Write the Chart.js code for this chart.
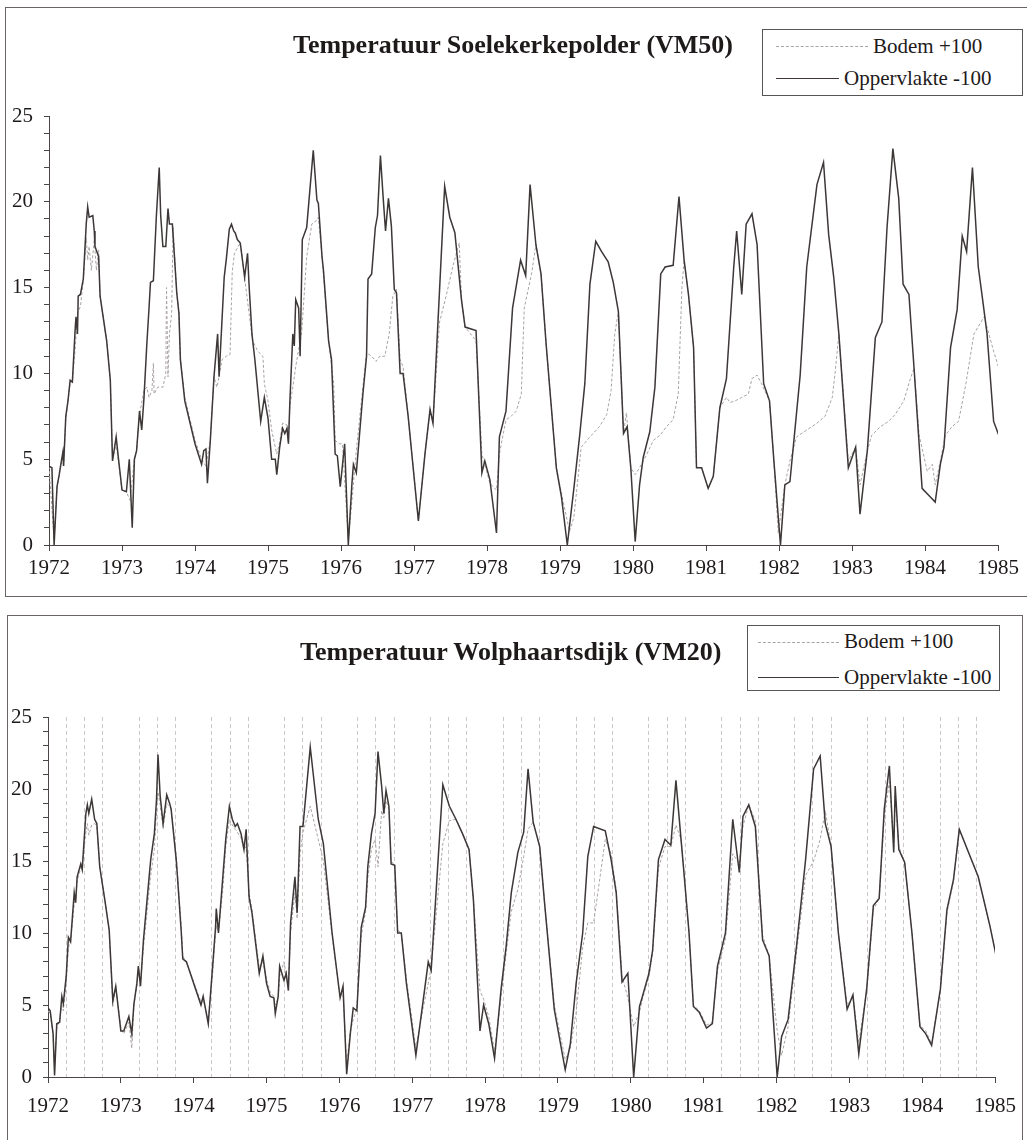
<!DOCTYPE html>
<html>
<head>
<meta charset="utf-8">
<title>Temperatuur Soelekerkepolder (VM50) / Wolphaartsdijk (VM20)</title>
<script src="https://cdn.jsdelivr.net/npm/chart.js@4.4.1/dist/chart.umd.min.js"></script>
<style>
  html, body { margin: 0; padding: 0; background: #fff; }
  body { width: 1027px; height: 1140px; position: relative; overflow: hidden;
         font-family: "Liberation Serif", "Times New Roman", serif; color: #1e1a1a; }
  .frame { position: absolute; border: 1px solid #6a6464; }
  #frame1 { left: 5px; top: 7px; width: 1040px; height: 588px; }
  #frame2 { left: 7px; top: 615px; width: 1014px; height: 560px; }
  .chartbox { position: absolute; left: 0; width: 1027px; }
  #box1 { top: 0; height: 600px; }
  #box2 { top: 600px; height: 540px; }
  .title { position: absolute; font-weight: bold; font-size: 26px; line-height: 30px; white-space: nowrap; }
  .legend { position: absolute; border: 1px solid #555; background: #fff; }
  .legend .sw { position: absolute; height: 0; }
  .legend .sw.bod { border-top: 1px dashed #aaa3a3; }
  .legend .sw.opp { border-top: 1.5px solid #3d3737; }
  .legend .txt { position: absolute; font-size: 21px; line-height: 24px; white-space: nowrap; }
</style>
</head>
<body>

<div class="frame" id="frame1"></div>
<div class="frame" id="frame2"></div>

<div class="chartbox" id="box1"><canvas id="soeChart"></canvas></div>
<div class="chartbox" id="box2"><canvas id="wolChart"></canvas></div>

<div class="title" style="left:293px; top:30px;">Temperatuur Soelekerkepolder (VM50)</div>
<div class="legend" style="left:762px; top:29px; width:259px; height:65px;">
  <div class="sw bod" style="left:13px; width:92px; top:16px;"></div>
  <div class="txt" style="left:110px; top:4px;">Bodem +100</div>
  <div class="sw opp" style="left:13px; width:63px; top:48px;"></div>
  <div class="txt" style="left:81px; top:36px;">Oppervlakte -100</div>
</div>

<div class="title" style="left:300px; top:637px;">Temperatuur Wolphaartsdijk (VM20)</div>
<div class="legend" style="left:747px; top:625px; width:251px; height:64px;">
  <div class="sw bod" style="left:10px; width:81px; top:16px;"></div>
  <div class="txt" style="left:96px; top:3px;">Bodem +100</div>
  <div class="sw opp" style="left:10px; width:81px; top:51px;"></div>
  <div class="txt" style="left:96px; top:39px;">Oppervlakte -100</div>
</div>

<script>
/* Temperatuur Soelekerkepolder (VM50) - oppervlakte (-100) */
const soeOppDates = [
  1972.00, 1972.04, 1972.07, 1972.11, 1972.14, 1972.17, 1972.19, 1972.20, 1972.23, 1972.26,
  1972.29, 1972.32, 1972.36, 1972.37, 1972.39, 1972.40, 1972.43, 1972.47, 1972.51, 1972.53,
  1972.55, 1972.60, 1972.62, 1972.63, 1972.68, 1972.70, 1972.79, 1972.84, 1972.87, 1972.92,
  1972.95, 1973.00, 1973.06, 1973.10, 1973.14, 1973.17, 1973.20, 1973.24, 1973.27, 1973.30,
  1973.34, 1973.37, 1973.39, 1973.43, 1973.47, 1973.51, 1973.53, 1973.56, 1973.60, 1973.63,
  1973.65, 1973.69, 1973.75, 1973.78, 1973.80, 1973.86, 1974.00, 1974.09, 1974.12, 1974.15,
  1974.17, 1974.21, 1974.26, 1974.31, 1974.33, 1974.40, 1974.43, 1974.47, 1974.50, 1974.53,
  1974.55, 1974.58, 1974.62, 1974.68, 1974.72, 1974.74, 1974.78, 1974.82, 1974.90, 1974.95,
  1975.00, 1975.05, 1975.10, 1975.12, 1975.16, 1975.20, 1975.23, 1975.26, 1975.28, 1975.30,
  1975.34, 1975.36, 1975.38, 1975.42, 1975.44, 1975.47, 1975.53, 1975.62, 1975.67, 1975.69,
  1975.74, 1975.76, 1975.83, 1975.87, 1975.92, 1975.95, 1975.99, 1976.05, 1976.10, 1976.15,
  1976.17, 1976.21, 1976.30, 1976.35, 1976.37, 1976.42, 1976.47, 1976.50, 1976.54, 1976.58,
  1976.61, 1976.65, 1976.69, 1976.73, 1976.76, 1976.81, 1976.85, 1976.92, 1977.06, 1977.15,
  1977.22, 1977.26, 1977.42, 1977.49, 1977.56, 1977.65, 1977.70, 1977.85, 1977.93, 1977.97,
  1978.04, 1978.13, 1978.17, 1978.26, 1978.35, 1978.46, 1978.53, 1978.59, 1978.67, 1978.74,
  1978.81, 1978.95, 1979.02, 1979.10, 1979.19, 1979.27, 1979.34, 1979.41, 1979.49, 1979.57,
  1979.66, 1979.73, 1979.80, 1979.87, 1979.92, 1979.97, 1980.03, 1980.09, 1980.14, 1980.23,
  1980.30, 1980.38, 1980.44, 1980.55, 1980.63, 1980.70, 1980.76, 1980.83, 1980.87, 1980.94,
  1981.03, 1981.10, 1981.19, 1981.28, 1981.38, 1981.42, 1981.49, 1981.55, 1981.63, 1981.70,
  1981.79, 1981.87, 1981.93, 1982.02, 1982.08, 1982.15, 1982.29, 1982.38, 1982.52, 1982.61,
  1982.68, 1982.75, 1982.82, 1982.95, 1983.05, 1983.11, 1983.21, 1983.32, 1983.41, 1983.48,
  1983.56, 1983.64, 1983.70, 1983.78, 1983.85, 1983.96, 1984.05, 1984.14, 1984.21, 1984.26,
  1984.35, 1984.44, 1984.51, 1984.57, 1984.65, 1984.73, 1984.78, 1984.85, 1984.94, 1985.09
];
const soeOppTemp = [
  4.6, 4.5, 0.0, 3.4, 4.1, 4.9, 5.4, 4.6, 7.5, 8.4,
  9.6, 9.5, 12.7, 13.3, 12.3, 14.5, 14.6, 15.5, 18.7, 19.7,
  19.1, 19.2, 18.3, 17.4, 16.8, 14.5, 11.9, 9.6, 4.9, 6.3,
  5.1, 3.2, 3.1, 5.0, 1.0, 5.0, 5.5, 7.8, 6.7, 8.5,
  11.7, 13.8, 15.3, 15.4, 19.1, 22.0, 19.2, 17.4, 17.4, 19.6,
  18.7, 18.7, 14.7, 13.5, 10.8, 8.4, 5.9, 4.7, 5.5, 5.6,
  3.6, 6.1, 9.8, 12.3, 9.8, 15.6, 16.7, 18.4, 18.7, 18.3,
  18.2, 17.8, 17.6, 15.6, 17.0, 15.2, 12.3, 10.8, 7.2, 8.6,
  7.4, 5.0, 5.0, 4.1, 5.7, 6.8, 6.5, 6.8, 5.9, 8.4,
  12.3, 11.6, 14.3, 13.8, 11.0, 17.8, 18.5, 23.0, 20.1, 19.9,
  16.8, 16.0, 11.9, 10.8, 5.3, 5.2, 3.4, 5.9, 0.0, 3.6,
  4.7, 4.2, 8.8, 11.0, 15.5, 15.8, 18.5, 19.2, 22.7, 20.1,
  18.3, 20.2, 18.6, 14.9, 14.7, 10.0, 10.0, 7.5, 1.4, 5.3,
  7.9, 7.1, 20.9, 19.1, 18.2, 14.3, 12.7, 12.5, 4.2, 4.9,
  3.8, 0.7, 6.3, 7.8, 13.8, 16.6, 15.7, 21.0, 17.5, 15.8,
  11.7, 4.5, 2.8, 0.0, 3.3, 6.4, 9.4, 15.2, 17.7, 17.1,
  16.5, 15.3, 13.6, 6.5, 6.9, 4.5, 0.2, 3.5, 5.1, 6.6,
  9.2, 15.8, 16.2, 16.3, 20.3, 16.6, 14.6, 11.5, 4.5, 4.5,
  3.3, 4.0, 8.0, 9.7, 16.2, 18.3, 14.6, 18.7, 19.3, 17.5,
  9.4, 8.4, 4.9, 0.0, 3.5, 3.7, 9.9, 16.2, 21.0, 22.3,
  18.1, 15.6, 12.3, 4.5, 5.7, 1.8, 5.5, 12.1, 13.0, 18.5,
  23.1, 20.2, 15.2, 14.6, 10.3, 3.3, 2.9, 2.5, 4.7, 5.7,
  11.5, 13.7, 18.0, 17.1, 22.0, 16.2, 14.6, 12.3, 7.2, 5.5
];

/* Temperatuur Soelekerkepolder (VM50) - bodem (+100) */
const soeBodDates = [
  1972.00, 1972.07, 1972.11, 1972.17, 1972.20, 1972.23, 1972.29, 1972.32, 1972.36, 1972.39,
  1972.43, 1972.47, 1972.51, 1972.53, 1972.55, 1972.58, 1972.62, 1972.65, 1972.68, 1972.70,
  1972.79, 1972.84, 1972.87, 1972.92, 1973.00, 1973.06, 1973.11, 1973.17, 1973.20, 1973.24,
  1973.30, 1973.34, 1973.37, 1973.41, 1973.43, 1973.44, 1973.49, 1973.56, 1973.60, 1973.61,
  1973.63, 1973.65, 1973.68, 1973.70, 1973.75, 1973.78, 1973.80, 1973.86, 1974.00, 1974.09,
  1974.15, 1974.21, 1974.26, 1974.30, 1974.33, 1974.37, 1974.43, 1974.48, 1974.51, 1974.54,
  1974.62, 1974.68, 1974.74, 1974.79, 1974.86, 1974.93, 1974.95, 1975.00, 1975.05, 1975.12,
  1975.16, 1975.20, 1975.26, 1975.28, 1975.30, 1975.34, 1975.38, 1975.42, 1975.46, 1975.53,
  1975.60, 1975.66, 1975.69, 1975.74, 1975.83, 1975.90, 1975.92, 1975.97, 1976.02, 1976.10,
  1976.15, 1976.21, 1976.28, 1976.35, 1976.42, 1976.48, 1976.53, 1976.60, 1976.66, 1976.71,
  1976.76, 1976.81, 1976.85, 1976.92, 1977.06, 1977.15, 1977.22, 1977.26, 1977.35, 1977.44,
  1977.53, 1977.58, 1977.62, 1977.65, 1977.70, 1977.85, 1977.93, 1978.04, 1978.13, 1978.17,
  1978.26, 1978.33, 1978.40, 1978.47, 1978.51, 1978.61, 1978.67, 1978.74, 1978.81, 1978.95,
  1979.04, 1979.13, 1979.19, 1979.29, 1979.41, 1979.54, 1979.64, 1979.70, 1979.75, 1979.80,
  1979.87, 1979.91, 1979.97, 1980.03, 1980.09, 1980.19, 1980.28, 1980.37, 1980.46, 1980.55,
  1980.62, 1980.67, 1980.70, 1980.76, 1980.83, 1980.87, 1980.94, 1981.03, 1981.10, 1981.19,
  1981.28, 1981.33, 1981.40, 1981.49, 1981.58, 1981.63, 1981.70, 1981.76, 1981.87, 1981.93,
  1981.99, 1982.08, 1982.15, 1982.24, 1982.38, 1982.52, 1982.63, 1982.73, 1982.77, 1982.82,
  1982.95, 1983.05, 1983.11, 1983.21, 1983.27, 1983.39, 1983.50, 1983.59, 1983.71, 1983.80,
  1983.85, 1983.92, 1984.03, 1984.10, 1984.14, 1984.21, 1984.28, 1984.37, 1984.46, 1984.56,
  1984.67, 1984.81, 1984.94, 1985.09
];
const soeBodTemp = [
  4.6, 0.3, 3.4, 4.8, 4.6, 7.3, 9.5, 9.5, 11.5, 13.5,
  13.9, 15.4, 17.9, 16.6, 17.4, 16.0, 17.8, 16.0, 17.2, 14.5,
  11.9, 9.6, 5.0, 5.9, 3.2, 3.1, 2.6, 5.0, 5.5, 7.6,
  9.0, 9.2, 8.6, 9.0, 10.6, 8.8, 9.2, 9.2, 10.0, 15.0,
  9.8, 12.3, 13.5, 18.5, 14.7, 13.5, 10.8, 8.6, 6.1, 5.0,
  4.6, 6.1, 9.8, 9.2, 9.8, 10.8, 11.0, 11.1, 15.9, 17.0,
  17.6, 15.6, 13.5, 11.9, 11.3, 11.0, 9.4, 8.4, 6.7, 5.3,
  6.0, 7.1, 7.0, 5.9, 8.1, 9.2, 10.4, 11.4, 12.3, 16.8,
  18.7, 18.9, 19.1, 16.8, 11.9, 9.4, 6.1, 5.9, 5.9, 0.3,
  2.6, 5.5, 8.4, 11.2, 11.0, 10.7, 11.0, 11.0, 12.3, 14.5,
  14.9, 10.8, 10.4, 7.5, 1.4, 5.3, 7.9, 7.1, 13.0, 14.5,
  16.2, 17.0, 17.6, 14.3, 12.7, 11.9, 5.3, 3.6, 3.2, 5.3,
  7.3, 7.5, 7.8, 8.8, 13.8, 15.8, 17.5, 15.8, 11.7, 4.5,
  2.6, 0.8, 1.6, 5.7, 6.3, 6.9, 7.6, 9.0, 12.3, 13.6,
  6.5, 7.7, 4.5, 4.1, 4.5, 5.3, 6.1, 6.4, 6.9, 7.3,
  8.8, 15.0, 16.6, 14.6, 11.5, 4.5, 4.5, 3.3, 4.0, 8.0,
  8.6, 8.3, 8.4, 8.6, 8.8, 9.7, 9.9, 9.4, 8.4, 4.9,
  0.7, 3.5, 4.9, 6.3, 6.7, 7.1, 7.5, 8.6, 10.1, 12.3,
  4.9, 5.7, 3.5, 5.5, 6.4, 6.9, 7.2, 7.6, 8.4, 9.7,
  10.3, 6.4, 4.3, 4.7, 3.5, 4.9, 6.4, 6.9, 7.2, 9.4,
  12.3, 13.3, 11.3, 9.2
];

/* Temperatuur Wolphaartsdijk (VM20) */
const wolDates = [
  1972.00, 1972.03, 1972.07, 1972.09, 1972.12, 1972.16, 1972.19, 1972.21, 1972.25, 1972.28,
  1972.31, 1972.36, 1972.38, 1972.40, 1972.45, 1972.47, 1972.49, 1972.52, 1972.54, 1972.56,
  1972.60, 1972.64, 1972.67, 1972.71, 1972.78, 1972.84, 1972.89, 1972.93, 1973.00, 1973.04,
  1973.11, 1973.15, 1973.18, 1973.22, 1973.24, 1973.27, 1973.31, 1973.36, 1973.41, 1973.46,
  1973.49, 1973.51, 1973.54, 1973.58, 1973.63, 1973.67, 1973.69, 1973.76, 1973.78, 1973.83,
  1973.85, 1973.90, 1974.10, 1974.13, 1974.20, 1974.26, 1974.30, 1974.31, 1974.34, 1974.40,
  1974.44, 1974.49, 1974.53, 1974.57, 1974.60, 1974.65, 1974.69, 1974.72, 1974.76, 1974.80,
  1974.90, 1974.95, 1975.00, 1975.05, 1975.10, 1975.12, 1975.16, 1975.18, 1975.24, 1975.27,
  1975.30, 1975.33, 1975.35, 1975.39, 1975.42, 1975.46, 1975.50, 1975.60, 1975.71, 1975.78,
  1975.90, 1976.01, 1976.05, 1976.10, 1976.15, 1976.19, 1976.24, 1976.30, 1976.36, 1976.39,
  1976.44, 1976.49, 1976.53, 1976.58, 1976.61, 1976.64, 1976.68, 1976.71, 1976.76, 1976.80,
  1976.85, 1976.92, 1977.05, 1977.15, 1977.22, 1977.26, 1977.42, 1977.51, 1977.60, 1977.69,
  1977.78, 1977.84, 1977.93, 1977.98, 1978.05, 1978.13, 1978.22, 1978.29, 1978.36, 1978.45,
  1978.53, 1978.59, 1978.66, 1978.75, 1978.82, 1978.95, 1979.10, 1979.17, 1979.25, 1979.34,
  1979.41, 1979.49, 1979.65, 1979.73, 1979.80, 1979.88, 1979.96, 1980.04, 1980.12, 1980.16,
  1980.25, 1980.30, 1980.38, 1980.47, 1980.55, 1980.62, 1980.69, 1980.73, 1980.80, 1980.86,
  1980.94, 1981.04, 1981.12, 1981.19, 1981.30, 1981.40, 1981.49, 1981.54, 1981.62, 1981.71,
  1981.81, 1981.90, 1982.01, 1982.07, 1982.16, 1982.28, 1982.40, 1982.51, 1982.60, 1982.67,
  1982.75, 1982.85, 1982.97, 1983.05, 1983.13, 1983.24, 1983.33, 1983.41, 1983.48, 1983.55,
  1983.61, 1983.63, 1983.68, 1983.76, 1983.86, 1983.97, 1984.05, 1984.13, 1984.25, 1984.34,
  1984.43, 1984.51, 1984.77, 1984.93, 1985.09
];
const wolOppTemp = [
  4.8, 4.6, 3.0, 0.1, 3.7, 3.8, 5.6, 5.1, 7.0, 9.7,
  9.4, 12.8, 12.1, 13.9, 14.8, 14.4, 16.0, 18.3, 18.9, 18.3,
  19.3, 17.9, 17.6, 14.6, 12.3, 10.2, 5.3, 6.3, 3.2, 3.2,
  4.2, 3.0, 5.1, 6.5, 7.7, 6.3, 9.5, 12.3, 15.1, 16.9,
  19.3, 22.4, 19.5, 17.6, 19.6, 19.0, 18.6, 15.1, 13.7, 10.0,
  8.2, 8.0, 5.0, 5.6, 3.7, 7.7, 10.4, 11.7, 10.0, 13.9,
  16.5, 18.8, 17.9, 17.4, 17.6, 16.9, 15.8, 17.2, 12.5, 11.4,
  7.2, 8.4, 6.5, 5.6, 5.5, 4.4, 5.6, 7.7, 6.7, 7.2,
  6.0, 10.7, 11.8, 13.9, 11.4, 17.4, 17.4, 22.9, 17.9, 16.2,
  10.0, 5.5, 6.3, 0.2, 3.0, 4.8, 4.6, 10.4, 11.8, 14.6,
  16.9, 18.3, 22.6, 20.2, 18.3, 19.9, 18.8, 14.8, 14.7, 10.0,
  10.0, 6.5, 1.5, 5.3, 8.0, 7.4, 20.3, 18.8, 17.9, 16.9,
  15.8, 12.3, 3.2, 5.0, 3.7, 1.3, 6.1, 9.1, 12.8, 15.6,
  17.0, 21.4, 17.7, 16.0, 11.9, 4.7, 0.5, 2.3, 6.5, 10.0,
  15.3, 17.4, 17.1, 15.1, 12.8, 6.6, 7.2, 0.0, 4.9, 5.6,
  7.2, 8.8, 15.1, 16.5, 16.1, 20.6, 16.5, 14.2, 10.0, 4.9,
  4.5, 3.4, 3.7, 7.7, 10.0, 17.9, 14.2, 18.1, 18.9, 17.4,
  9.5, 8.4, 0.0, 2.8, 4.0, 9.3, 15.1, 21.4, 22.3, 17.6,
  16.0, 10.0, 4.7, 5.7, 1.6, 6.2, 11.9, 12.4, 18.6, 21.6,
  15.6, 20.2, 15.8, 14.9, 10.0, 3.5, 3.0, 2.2, 6.1, 11.6,
  13.7, 17.2, 13.9, 10.5, 6.6
];
const wolBodTemp = [
  4.6, 4.4, 3.0, 0.5, 3.4, 4.0, 5.0, 4.6, 6.5, 9.0,
  9.4, 12.0, 12.4, 13.6, 14.5, 14.8, 15.6, 17.0, 17.6, 16.8,
  17.5, 17.6, 17.4, 14.6, 12.3, 10.2, 4.9, 6.3, 3.4, 3.0,
  3.8, 2.0, 5.0, 6.3, 7.4, 6.6, 9.0, 11.5, 14.0, 15.8,
  18.5, 19.8, 18.9, 17.3, 19.0, 18.8, 18.6, 15.4, 14.0, 10.4,
  8.4, 8.0, 5.2, 5.4, 4.0, 7.2, 10.0, 10.5, 10.0, 13.0,
  16.0, 17.9, 17.5, 17.2, 17.0, 16.6, 15.8, 16.0, 12.8, 11.6,
  7.6, 8.0, 6.8, 5.9, 5.6, 5.0, 5.5, 7.0, 8.0, 7.0,
  6.2, 10.0, 11.0, 12.8, 11.0, 15.5, 17.0, 18.8, 16.5, 15.0,
  9.8, 5.6, 5.8, 0.8, 3.2, 4.0, 4.8, 9.8, 11.5, 13.8,
  15.8, 16.5, 14.6, 18.5, 18.0, 19.2, 18.6, 15.0, 14.7, 10.2,
  10.0, 6.8, 2.0, 4.8, 6.5, 7.6, 16.2, 17.8, 17.9, 16.9,
  15.8, 12.3, 6.0, 5.4, 4.2, 1.8, 5.6, 8.6, 11.5, 13.0,
  15.3, 17.2, 17.7, 16.0, 11.9, 5.0, 1.2, 2.0, 4.5, 9.0,
  10.7, 10.7, 16.5, 15.5, 13.0, 7.0, 5.5, 3.5, 4.5, 5.4,
  7.0, 8.6, 14.5, 16.0, 16.0, 17.5, 16.5, 14.2, 10.0, 5.0,
  4.6, 3.6, 3.8, 7.4, 9.6, 15.5, 14.8, 17.4, 18.9, 17.8,
  9.8, 8.4, 3.2, 1.5, 3.5, 8.8, 14.0, 15.0, 16.5, 18.5,
  16.0, 10.0, 5.0, 5.5, 2.4, 6.0, 11.6, 12.4, 18.0, 20.5,
  16.0, 19.5, 16.0, 14.9, 10.0, 3.6, 3.2, 2.3, 6.0, 11.4,
  13.6, 17.2, 13.9, 10.5, 6.6
];

/* as-labels */
const yearLabels = [1972, 1973, 1974, 1975, 1976, 1977, 1978, 1979, 1980, 1981, 1982, 1983, 1984, 1985];
const tempLabels = [0, 5, 10, 15, 20, 25];

const DARK = '#3d3737';
const LIGHT = '#aaa3a3';
const AXIS = '#4a4444';
const TEXT = '#1e1a1a';
const tickFont = { family: '"Liberation Serif", "Times New Roman", serif', size: 21 };

function toPoints(dates, vals) {
    return dates.map((d, i) => ({ x: d, y: vals[i] }));
}

// kleine streepjes op de y-as bij elke graad
const tempMinor = [];
for (let t = tempLabels[0]; t <= tempLabels[tempLabels.length - 1]; t++) tempMinor.push(t);

// kwartaal-lijnen voor de onderste grafiek
const quarterTicks = [];
yearLabels.forEach((y, i) => {
    quarterTicks.push(y);
    if (i < yearLabels.length - 1) quarterTicks.push(y + 0.25, y + 0.5, y + 0.75);
});

function buildChart(canvasId, datasets, L) {
    return new Chart(document.getElementById(canvasId), {
        type: 'line',
        data: { datasets: datasets },
        options: {
            responsive: true,
            maintainAspectRatio: false,
            animation: false,
            events: [],
            layout: { padding: { top: L.top, right: L.right, left: 0, bottom: 0 } },
            plugins: {
                legend: { display: false },
                title: { display: false },
                tooltip: { enabled: false }
            },
            elements: { point: { radius: 0 }, line: { tension: 0 } },
            scales: {
                x: {
                    type: 'linear',
                    min: yearLabels[0],
                    max: yearLabels[yearLabels.length - 1],
                    afterBuildTicks: ax => { ax.ticks = L.xTicks.map(v => ({ value: v })); },
                    afterFit: ax => { ax.height = L.xHeight; },
                    ticks: {
                        autoSkip: false, maxRotation: 0, minRotation: 0,
                        padding: L.xPad, color: TEXT, font: tickFont,
                        callback: v => yearLabels.includes(v) ? String(v) : ''
                    },
                    grid: {
                        drawOnChartArea: L.quarterGrid,
                        drawTicks: true,
                        tickLength: 6,
                        lineWidth: 1,
                        color: c => (c.tick && yearLabels.includes(c.tick.value)) ? 'rgba(0,0,0,0)' : '#cdc8c8',
                        tickColor: c => (c.tick && yearLabels.includes(c.tick.value)) ? AXIS : 'rgba(0,0,0,0)'
                    },
                    border: { display: true, color: AXIS, width: 1, dash: L.quarterGrid ? [4, 3] : [] }
                },
                y: {
                    min: tempLabels[0],
                    max: tempLabels[tempLabels.length - 1],
                    afterBuildTicks: ax => { ax.ticks = tempMinor.map(v => ({ value: v })); },
                    afterFit: ax => { ax.width = L.left; },
                    ticks: {
                        autoSkip: false, padding: 11, color: TEXT, font: tickFont,
                        callback: v => tempLabels.includes(v) ? String(v) : ''
                    },
                    grid: { drawOnChartArea: false, drawTicks: true, tickLength: 5, tickColor: AXIS },
                    border: { display: true, color: AXIS, width: 1 }
                }
            }
        }
    });
}

buildChart('soeChart', [{
    label: 'Oppervlakte -100',
    data: toPoints(soeOppDates, soeOppTemp),
    borderColor: DARK,
    borderWidth: 1.5,
    fill: false
}, {
    label: 'Bodem +100',
    data: toPoints(soeBodDates, soeBodTemp),
    borderColor: LIGHT,
    borderWidth: 1,
    borderDash: [3, 2],
    fill: false
}], { top: 116, right: 29, left: 49, xHeight: 55, xPad: 5, xTicks: yearLabels, quarterGrid: false });

buildChart('wolChart', [{
    label: 'Oppervlakte -100',
    data: toPoints(wolDates, wolOppTemp),
    borderColor: DARK,
    borderWidth: 1.5,
    fill: false
}, {
    label: 'Bodem +100',
    data: toPoints(wolDates, wolBodTemp),
    borderColor: LIGHT,
    borderWidth: 1,
    borderDash: [3, 2],
    fill: false
}], { top: 117, right: 27, left: 48, xHeight: 63, xPad: 11, xTicks: quarterTicks, quarterGrid: true });
</script>
</body>
</html>
